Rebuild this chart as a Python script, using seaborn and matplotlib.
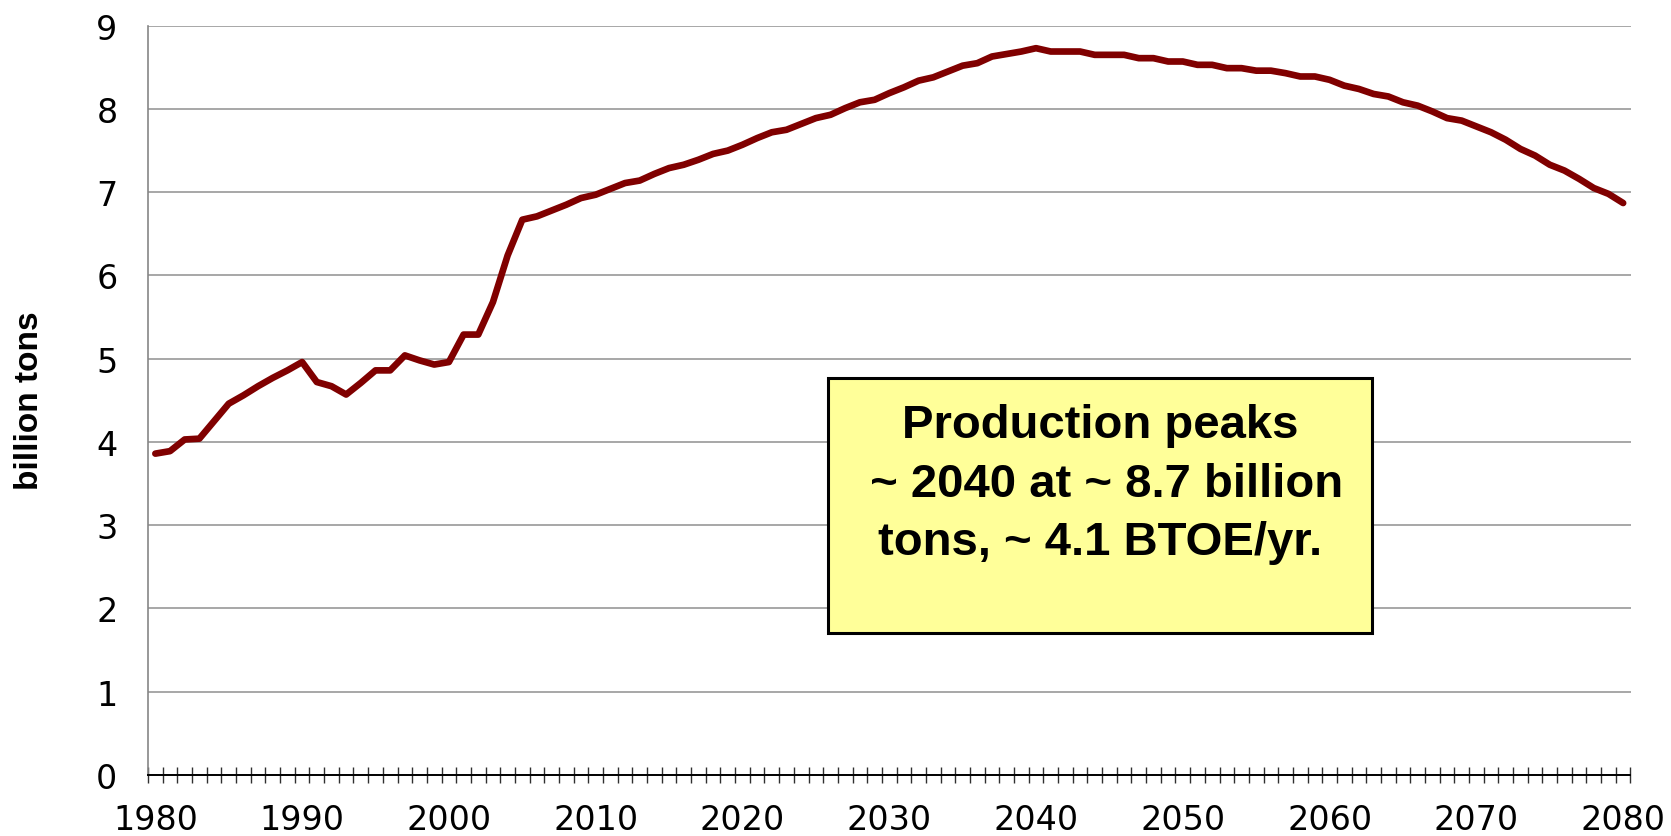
import numpy as np
import pandas as pd
import matplotlib
matplotlib.use("Agg")
import matplotlib.pyplot as plt
import seaborn as sns
from matplotlib.patches import Rectangle
from matplotlib.ticker import FixedLocator, NullFormatter

# ---- data ----
years = list(range(1980, 2081))
production = [
    3.86, 3.89, 4.03, 4.04, 4.25, 4.46, 4.56, 4.67, 4.77, 4.86,   # 1980-1989
    4.96, 4.72, 4.67, 4.57, 4.71, 4.86, 4.86, 5.04, 4.98, 4.93,   # 1990-1999
    4.96, 5.29, 5.29, 5.68, 6.24, 6.67, 6.71, 6.78, 6.85, 6.93,   # 2000-2009
    6.97, 7.04, 7.11, 7.14, 7.22, 7.29, 7.33, 7.39, 7.46, 7.50,   # 2010-2019
    7.57, 7.65, 7.72, 7.75, 7.82, 7.89, 7.93, 8.01, 8.08, 8.11,   # 2020-2029
    8.19, 8.26, 8.34, 8.38, 8.45, 8.52, 8.55, 8.63, 8.66, 8.69,   # 2030-2039
    8.73, 8.69, 8.69, 8.69, 8.65, 8.65, 8.65, 8.61, 8.61, 8.57,   # 2040-2049
    8.57, 8.53, 8.53, 8.49, 8.49, 8.46, 8.46, 8.43, 8.39, 8.39,   # 2050-2059
    8.35, 8.28, 8.24, 8.18, 8.15, 8.08, 8.04, 7.97, 7.89, 7.86,   # 2060-2069
    7.79, 7.72, 7.63, 7.52, 7.44, 7.33, 7.26, 7.16, 7.05, 6.98,   # 2070-2079
    6.87,                                                         # 2080
]
x_tick_labels = [str(y) for y in range(1980, 2081, 10)]
y_ticks = list(range(0, 10))
annotation = "Production peaks\n ~ 2040 at ~ 8.7 billion\ntons, ~ 4.1 BTOE/yr."
y_label = "billion tons"

df = pd.DataFrame({"year": years, "production": production})

# ---- style ----
sns.set_theme(style="white")
plt.rcParams["font.family"] = ["Liberation Sans", "DejaVu Sans"]

fig = plt.figure(figsize=(16.71, 8.37), dpi=100)
ax = fig.add_axes([148 / 1671, 61 / 837, 1482.5 / 1671, 749.3 / 837])

sns.lineplot(data=df, x="year", y="production", ax=ax,
             color="#800000", linewidth=4.8, solid_capstyle="round",
             solid_joinstyle="round", zorder=5)

ax.set_xlim(years[0] - 0.5, years[-1] + 0.5)
ax.set_ylim(0, 9)

tick_font = {"family": ["DejaVu Sans"], "size": 24}

# y axis
ax.set_yticks(y_ticks)
ax.set_yticklabels([str(v) for v in y_ticks], fontdict=tick_font)
ax.yaxis.grid(True, color="#a0a0a0", linewidth=1.3)
ax.xaxis.grid(False)
ax.tick_params(axis="y", which="major", direction="out", length=3, width=1,
               color="#868686", pad=19, labelcolor="black")

# x axis: labels at category centres, tick marks between categories
ax.set_xticks(list(range(1980, 2081, 10)))
ax.set_xticklabels(x_tick_labels, fontdict=tick_font)
ax.tick_params(axis="x", which="major", length=0, pad=20, labelcolor="black")
ax.xaxis.set_minor_locator(FixedLocator(np.arange(years[0] - 0.5, years[-1] + 1.0, 1.0)))
ax.xaxis.set_minor_formatter(NullFormatter())
ax.tick_params(axis="x", which="minor", direction="inout", length=11.5,
               width=1.0, color="#303030", bottom=True)

for side in ("top", "right"):
    ax.spines[side].set_visible(False)
ax.spines["left"].set_color("#868686")
ax.spines["left"].set_linewidth(1.2)
ax.spines["bottom"].set_color("black")
ax.spines["bottom"].set_linewidth(1.4)
ax.spines["bottom"].set_zorder(6)

ax.set_xlabel("")
ax.set_ylabel("")
fig.text(30 / 1671, 1 - 401 / 837, y_label, rotation=90, ha="center",
         va="center", fontsize=24, fontweight="bold", color="black")

# annotation box
box = Rectangle((0.4585, 0.189), 0.3669, 0.341, transform=ax.transAxes,
                facecolor="#ffff99", edgecolor="black", linewidth=2.2,
                zorder=7)
ax.add_patch(box)
ax.text(0.642, 0.389, annotation, transform=ax.transAxes, ha="center",
        va="center", multialignment="center", fontsize=34,
        fontweight="bold", color="black", linespacing=1.42, zorder=8)

fig.savefig("out.png", dpi=100, facecolor="white")
